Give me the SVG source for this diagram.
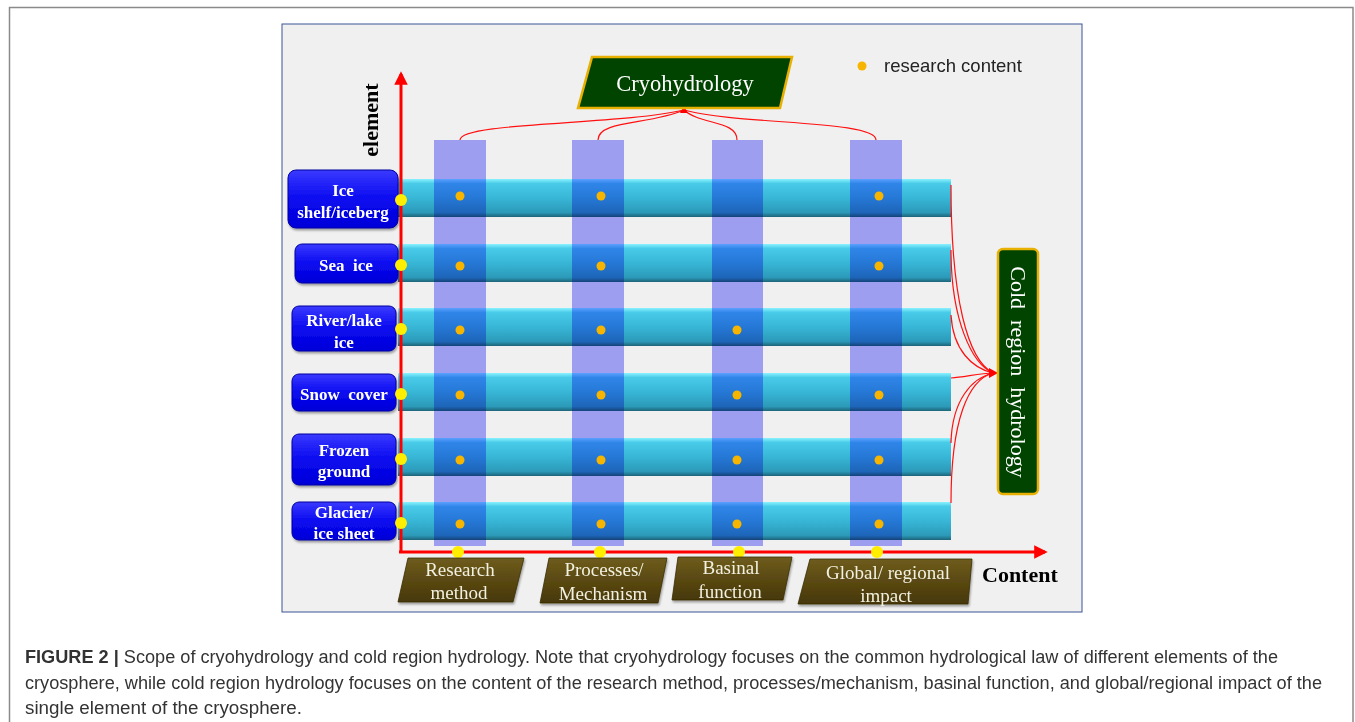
<svg xmlns="http://www.w3.org/2000/svg" width="1355" height="722" viewBox="0 0 1355 722">
<style>
.elem{font-family:"Liberation Serif",serif;font-weight:bold;font-size:17px;fill:#fff;text-anchor:middle}
.cont{font-family:"Liberation Serif",serif;font-size:19px;fill:#f2f0e0;text-anchor:middle}
.axl{font-family:"Liberation Serif",serif;font-weight:bold;font-size:22px;fill:#000}
.cap{font-family:"Liberation Sans",Arial,sans-serif;font-size:17.5px;fill:#333}
.col{fill:#a8a8ff;mix-blend-mode:multiply}
.dot{fill:#f7b500}
.ydot{fill:#ffee00}
.lbl{fill:url(#gBlue);stroke:#0000a0;stroke-width:1;filter:url(#shd)}
.brn{fill:url(#gBrown);stroke:#3a2e05;stroke-width:0.8;filter:url(#shd)}
.bar{fill:url(#gBar)}
.con{fill:none;stroke:#ff1010;stroke-width:1.2}
</style>
<defs>
<filter id="shd" x="-10%" y="-10%" width="130%" height="140%">
<feDropShadow dx="1" dy="2" stdDeviation="1.2" flood-color="#000" flood-opacity="0.35"/>
</filter>
<linearGradient id="gBar" x1="0" y1="0" x2="0" y2="1">
<stop offset="0" stop-color="#8af2ff"/>
<stop offset="0.12" stop-color="#48cbe8"/>
<stop offset="0.5" stop-color="#38b6d6"/>
<stop offset="0.88" stop-color="#2c9ab9"/>
<stop offset="1" stop-color="#1d6478"/>
</linearGradient>
<linearGradient id="gBlue" x1="0" y1="0" x2="0" y2="1">
<stop offset="0" stop-color="#3a3aff"/>
<stop offset="0.5" stop-color="#0a0af0"/>
<stop offset="1" stop-color="#0000d8"/>
</linearGradient>
<linearGradient id="gBrown" x1="0" y1="0" x2="0" y2="1">
<stop offset="0" stop-color="#6e5c1c"/>
<stop offset="0.5" stop-color="#5a4912"/>
<stop offset="1" stop-color="#463808"/>
</linearGradient>
<marker id="arr" viewBox="0 0 10 10" refX="8" refY="5" markerWidth="4.5" markerHeight="4.5" orient="auto">
<path d="M0,0 L10,5 L0,10 z" fill="#ff0000"/>
</marker>
</defs>

<rect width="1355" height="722" fill="#ffffff"/>
<path d="M9.5,722 V7.5 H1353 V722" fill="none" stroke="#8a8a8a" stroke-width="1.5"/>
<rect x="282" y="24" width="800" height="588" fill="#f0f0f0" stroke="#3a5592" stroke-width="1"/>

<g id="bars">
<rect class="bar" x="398" y="179" width="553" height="38"/>
<rect class="bar" x="398" y="244" width="553" height="38"/>
<rect class="bar" x="398" y="308" width="553" height="38"/>
<rect class="bar" x="398" y="373" width="553" height="38"/>
<rect class="bar" x="398" y="438" width="553" height="38"/>
<rect class="bar" x="398" y="502" width="553" height="38"/>
</g>

<g id="columns">
<rect class="col" x="434" y="140" width="52" height="406"/>
<rect class="col" x="572" y="140" width="52" height="406"/>
<rect class="col" x="712" y="140" width="51" height="406"/>
<rect class="col" x="850" y="140" width="52" height="406"/>
</g>

<g id="content-dots">
<circle class="dot" cx="460" cy="196" r="4.5"/><circle class="dot" cx="601" cy="196" r="4.5"/><circle class="dot" cx="879" cy="196" r="4.5"/>
<circle class="dot" cx="460" cy="266" r="4.5"/><circle class="dot" cx="601" cy="266" r="4.5"/><circle class="dot" cx="879" cy="266" r="4.5"/>
<circle class="dot" cx="460" cy="330" r="4.5"/><circle class="dot" cx="601" cy="330" r="4.5"/><circle class="dot" cx="737" cy="330" r="4.5"/>
<circle class="dot" cx="460" cy="395" r="4.5"/><circle class="dot" cx="601" cy="395" r="4.5"/><circle class="dot" cx="737" cy="395" r="4.5"/><circle class="dot" cx="879" cy="395" r="4.5"/>
<circle class="dot" cx="460" cy="460" r="4.5"/><circle class="dot" cx="601" cy="460" r="4.5"/><circle class="dot" cx="737" cy="460" r="4.5"/><circle class="dot" cx="879" cy="460" r="4.5"/>
<circle class="dot" cx="460" cy="524" r="4.5"/><circle class="dot" cx="601" cy="524" r="4.5"/><circle class="dot" cx="737" cy="524" r="4.5"/><circle class="dot" cx="879" cy="524" r="4.5"/>
</g>

<g id="el-ice-shelf">
<rect class="lbl" x="288" y="170" width="110" height="58" rx="8"/>
<text class="elem" x="343" y="196">Ice</text>
<text class="elem" x="343" y="218">shelf/iceberg</text>
</g>
<g id="el-sea-ice">
<rect class="lbl" x="295" y="244" width="103" height="39" rx="7"/>
<text class="elem" x="346" y="271" xml:space="preserve">Sea  ice</text>
</g>
<g id="el-river-lake">
<rect class="lbl" x="292" y="306" width="104" height="45" rx="7"/>
<text class="elem" x="344" y="326">River/lake</text>
<text class="elem" x="344" y="348">ice</text>
</g>
<g id="el-snow">
<rect class="lbl" x="292" y="374" width="104" height="37" rx="7"/>
<text class="elem" x="344" y="400" xml:space="preserve">Snow  cover</text>
</g>
<g id="el-frozen">
<rect class="lbl" x="292" y="434" width="104" height="51" rx="7"/>
<text class="elem" x="344" y="456">Frozen</text>
<text class="elem" x="344" y="477">ground</text>
</g>
<g id="el-glacier">
<rect class="lbl" x="292" y="502" width="104" height="38" rx="7"/>
<text class="elem" x="344" y="518">Glacier/</text>
<text class="elem" x="344" y="539">ice sheet</text>
</g>

<g id="axes">
<path d="M401,552 V74" fill="none" stroke="#ff0000" stroke-width="3" marker-end="url(#arr)"/>
<path d="M399,552 H1045" fill="none" stroke="#ff0000" stroke-width="3" marker-end="url(#arr)"/>
<text class="axl" transform="translate(378,120) rotate(-90)" text-anchor="middle">element</text>
<text class="axl" x="982" y="582">Content</text>
</g>

<g id="connectors">
<path class="con" d="M460,140 C460,122 620,125 684,110"/>
<path class="con" d="M598,140 C598,120 650,125 684,110"/>
<path class="con" d="M737,140 C737,120 700,125 684,110"/>
<path class="con" d="M876,140 C876,120 740,125 684,110"/>
<polygon points="680,113 684,106 688,113" fill="#ff0000"/>
<path class="con" d="M951,185 C951,300 968,360 993,373"/>
<path class="con" d="M951,250 C951,320 972,364 993,373"/>
<path class="con" d="M951,315 C953,350 972,368 993,373"/>
<path class="con" d="M951,378 C965,377 980,373 993,373"/>
<path class="con" d="M951,443 C952,400 972,378 993,373"/>
<path class="con" d="M951,503 C951,420 968,380 993,373"/>
<polygon points="989,368 998,373 989,378" fill="#ff0000"/>
</g>

<g id="axis-dots">
<circle class="ydot" cx="401" cy="200" r="6"/>
<circle class="ydot" cx="401" cy="265" r="6"/>
<circle class="ydot" cx="401" cy="329" r="6"/>
<circle class="ydot" cx="401" cy="394" r="6"/>
<circle class="ydot" cx="401" cy="459" r="6"/>
<circle class="ydot" cx="401" cy="523" r="6"/>
<circle class="ydot" cx="458" cy="552" r="6"/>
<circle class="ydot" cx="600" cy="552" r="6"/>
<circle class="ydot" cx="739" cy="552" r="6"/>
<circle class="ydot" cx="877" cy="552" r="6"/>
</g>

<g id="ct-research">
<polygon class="brn" points="408,558 524,558 513,602 398,602"/>
<text class="cont" x="460" y="576">Research</text>
<text class="cont" x="459" y="599">method</text>
</g>
<g id="ct-processes">
<polygon class="brn" points="549,558 667,558 658,603 540,603"/>
<text class="cont" x="604" y="576">Processes/</text>
<text class="cont" x="603" y="600">Mechanism</text>
</g>
<g id="ct-basinal">
<polygon class="brn" points="678,557 792,557 783,600 672,600"/>
<text class="cont" x="731" y="574">Basinal</text>
<text class="cont" x="730" y="598">function</text>
</g>
<g id="ct-global">
<polygon class="brn" points="810,559 972,559 968,604 798,604"/>
<text class="cont" x="888" y="579">Global/ regional</text>
<text class="cont" x="886" y="602">impact</text>
</g>

<g id="cryohydrology">
<polygon points="592,57 792,57 780,108 578,108" fill="#004400" stroke="#e8b000" stroke-width="2.5"/>
<text x="685" y="91" font-family="Liberation Serif, serif" font-size="22.5" fill="#ffffff" text-anchor="middle">Cryohydrology</text>
</g>

<g id="cold-region-hydrology">
<rect x="998" y="249" width="40" height="245" rx="5" fill="#004400" stroke="#e8b000" stroke-width="2.5"/>
<text transform="translate(1018,372) rotate(90)" font-family="Liberation Serif, serif" font-size="22" fill="#ffffff" text-anchor="middle" dominant-baseline="central" xml:space="preserve">Cold  region  hydrology</text>
</g>

<g id="legend">
<circle class="dot" cx="862" cy="66" r="4.5"/>
<text x="884" y="72" font-family="Liberation Sans, Arial, sans-serif" font-size="18.5" fill="#222">research content</text>
</g>

<g id="caption">
<text class="cap" x="25" y="663" textLength="1253" lengthAdjust="spacingAndGlyphs"><tspan font-weight="bold">FIGURE 2 |</tspan> Scope of cryohydrology and cold region hydrology. Note that cryohydrology focuses on the common hydrological law of different elements of the</text>
<text class="cap" x="25" y="689" textLength="1297" lengthAdjust="spacingAndGlyphs">cryosphere, while cold region hydrology focuses on the content of the research method, processes/mechanism, basinal function, and global/regional impact of the</text>
<text class="cap" x="25" y="714" textLength="277" lengthAdjust="spacingAndGlyphs">single element of the cryosphere.</text>
</g>
</svg>
